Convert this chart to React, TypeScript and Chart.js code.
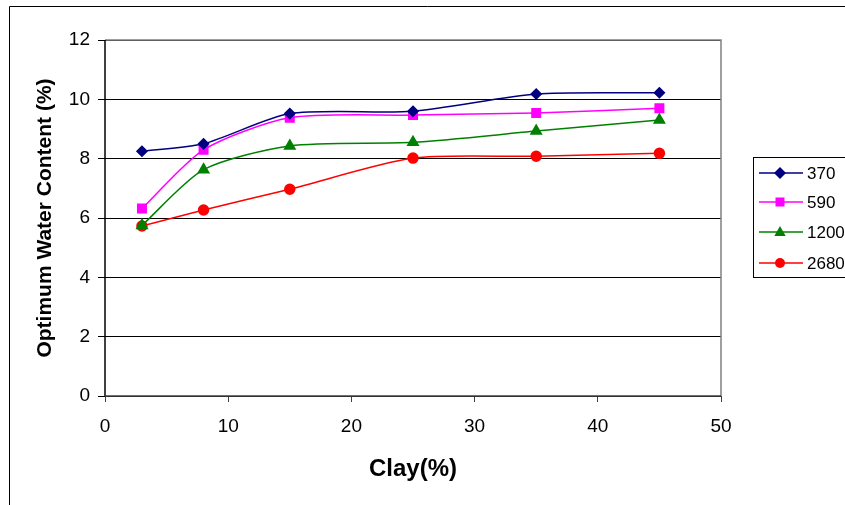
import React, { useEffect, useRef } from "react";
import { Chart, registerables } from "chart.js";

Chart.register(...registerables);

const clay = [3, 8, 15, 25, 35, 45];
const s370 = [8.25, 8.5, 9.52, 9.6, 10.18, 10.22];
const s590 = [6.32, 8.3, 9.38, 9.47, 9.54, 9.7];
const s1200 = [5.75, 7.63, 8.43, 8.55, 8.93, 9.3];
const s2680 = [5.73, 6.27, 6.97, 8.02, 8.08, 8.18];
const seriesNames = ["370", "590", "1200", "2680"];
const xTicks = [0, 10, 20, 30, 40, 50];
const yTicks = [0, 2, 4, 6, 8, 10, 12];

const colors = ["#000080", "#FF00FF", "#008000", "#FF0000"];
const shapes = ["rectRot", "rect", "triangle", "circle"];
const radii = [5, 6, 6, 5];

const FONT = "'Liberation Sans', Arial, sans-serif";

function drawMarker(ctx: CanvasRenderingContext2D, shape: string, x: number, y: number, r: number) {
  ctx.beginPath();
  if (shape === "circle") {
    ctx.arc(x, y, r, 0, Math.PI * 2);
  } else if (shape === "rect") {
    ctx.rect(x - r * 0.75, y - r * 0.75, r * 1.5, r * 1.5);
  } else if (shape === "rectRot") {
    ctx.moveTo(x, y - r * 1.2);
    ctx.lineTo(x + r * 1.2, y);
    ctx.lineTo(x, y + r * 1.2);
    ctx.lineTo(x - r * 1.2, y);
    ctx.closePath();
  } else if (shape === "triangle") {
    ctx.moveTo(x, y - r);
    ctx.lineTo(x + r * 0.95, y + r * 0.65);
    ctx.lineTo(x - r * 0.95, y + r * 0.65);
    ctx.closePath();
  }
  ctx.fill();
}

export default function App() {
  const ref = useRef<HTMLCanvasElement>(null);
  useEffect(() => {
    const all = [s370, s590, s1200, s2680];
    const datasets = all.map((vals, i) => ({
      label: seriesNames[i],
      data: clay.map((x, j) => ({ x, y: vals[j] })),
      borderColor: colors[i],
      backgroundColor: colors[i],
      pointBackgroundColor: colors[i],
      pointBorderColor: colors[i],
      pointStyle: shapes[i] as any,
      pointRadius: radii[i],
      borderWidth: 1.5,
      showLine: true,
      tension: 0.25,
    }));

    const framePlugin = {
      id: "frame",
      beforeDraw(chart: any) {
        const ctx = chart.ctx;
        ctx.save();
        ctx.fillStyle = "#fff";
        ctx.fillRect(0, 0, chart.width, chart.height);
        ctx.strokeStyle = "#000";
        ctx.lineWidth = 1;
        ctx.beginPath();
        ctx.moveTo(9.5, chart.height + 5);
        ctx.lineTo(9.5, 6.5);
        ctx.lineTo(chart.width + 5, 6.5);
        ctx.stroke();
        ctx.restore();
      },
      afterDraw(chart: any) {
        const ctx = chart.ctx;
        const { left, right, top, bottom } = chart.chartArea;
        ctx.save();
        ctx.strokeStyle = "#808080";
        ctx.lineWidth = 1.5;
        ctx.beginPath();
        ctx.moveTo(left, top);
        ctx.lineTo(right, top);
        ctx.lineTo(right, bottom);
        ctx.stroke();
        ctx.strokeStyle = "#000";
        ctx.lineWidth = 1.5;
        ctx.beginPath();
        ctx.moveTo(left, top);
        ctx.lineTo(left, bottom);
        ctx.stroke();
        ctx.strokeStyle = "#404040";
        ctx.beginPath();
        ctx.moveTo(left, bottom);
        ctx.lineTo(right, bottom);
        ctx.stroke();
        ctx.restore();

        // legend
        ctx.save();
        ctx.strokeStyle = "#000";
        ctx.lineWidth = 1;
        ctx.strokeRect(753.5, 157.5, 120, 120);
        const ys = [173, 202, 232, 263];
        ctx.font = `17px ${FONT}`;
        ctx.textBaseline = "middle";
        ctx.textAlign = "left";
        for (let i = 0; i < 4; i++) {
          ctx.strokeStyle = colors[i];
          ctx.lineWidth = 1.5;
          ctx.beginPath();
          ctx.moveTo(759, ys[i]);
          ctx.lineTo(803, ys[i]);
          ctx.stroke();
          ctx.fillStyle = colors[i];
          drawMarker(ctx, shapes[i], 780, ys[i], radii[i]);
          ctx.fillStyle = "#000";
          ctx.fillText(seriesNames[i], 807, ys[i] + 1);
        }
        ctx.restore();
      },
    };

    const chart = new Chart(ref.current!, {
      type: "scatter",
      data: { datasets },
      options: {
        animation: false,
        responsive: false,
        devicePixelRatio: 1,
        layout: { padding: { left: 33, top: 40, right: 124, bottom: 0 } },
        plugins: {
          legend: { display: false },
          tooltip: { enabled: false },
        },
        scales: {
          x: {
            type: "linear",
            min: 0,
            max: 50,
            afterBuildTicks: (s: any) => {
              s.ticks = xTicks.map((v) => ({ value: v }));
            },
            afterFit: (s: any) => {
              s.height = 505 - 396;
            },
            grid: {
              display: true,
              drawOnChartArea: false,
              drawTicks: true,
              tickLength: 6,
              color: "#404040",
            },
            border: { display: false },
            ticks: {
              color: "#000",
              font: { family: FONT, size: 19 },
              padding: 13,
              maxRotation: 0,
            },
            title: {
              display: true,
              text: "Clay(%)",
              color: "#000",
              font: { family: FONT, size: 24, weight: "bold" },
              padding: { top: 10, bottom: 21 },
            },
          },
          y: {
            type: "linear",
            min: 0,
            max: 12,
            afterBuildTicks: (s: any) => {
              s.ticks = yTicks.map((v) => ({ value: v }));
            },
            afterFit: (s: any) => {
              s.width = 105 - 33;
            },
            grid: {
              display: true,
              drawOnChartArea: true,
              drawTicks: true,
              tickLength: 7,
              color: "#000",
              lineWidth: 1,
            },
            border: { display: false },
            ticks: {
              color: "#000",
              font: { family: FONT, size: 19 },
              padding: 8,
            },
            title: {
              display: true,
              text: "Optimum Water Content (%)",
              color: "#000",
              font: { family: FONT, size: 21, weight: "bold" },
              padding: { top: 0, bottom: 10 },
            },
          },
        },
      },
      plugins: [framePlugin],
    });
    return () => chart.destroy();
  }, []);

  return (
    <div style={{ position: "fixed", left: 0, top: 0, width: 845, height: 505 }}>
      <canvas ref={ref} width={845} height={505} style={{ width: 845, height: 505, display: "block" }} />
    </div>
  );
}
